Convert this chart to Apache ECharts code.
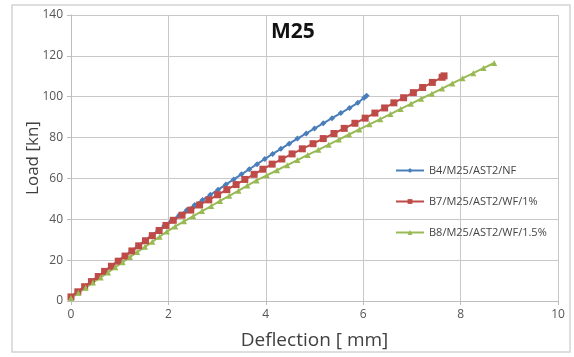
<!DOCTYPE html>
<html>
<head>
<meta charset="utf-8">
<script src="https://cdn.jsdelivr.net/npm/echarts@6/dist/echarts.min.js"></script>
<style>
  html, body { margin: 0; padding: 0; background: #fff; }
  #chart { width: 574px; height: 357px; }
</style>
</head>
<body>
<div id="chart"></div>
<script>
// load-deflection readings, [deflection mm, load kN]
const b4 = [
  [0, 2], [0.14, 4.5], [0.28, 7], [0.41, 9.5], [0.55, 12], [0.69, 14.5], [0.82, 17], [0.96, 19.5],
  [1.10, 22], [1.24, 24.5], [1.38, 27], [1.51, 29.5], [1.65, 32], [1.79, 34.5], [1.92, 37], [2.07, 39.5],
  [2.22, 42], [2.38, 44.5], [2.54, 47], [2.70, 49.5], [2.86, 52], [3.02, 54.5], [3.18, 57], [3.34, 59.5],
  [3.50, 62], [3.66, 64.5], [3.82, 67], [3.98, 69.5], [4.14, 72], [4.31, 74.5], [4.48, 77], [4.65, 79.5],
  [4.83, 82], [5.00, 84.5], [5.18, 87], [5.36, 89.5], [5.54, 92], [5.72, 94.5], [5.89, 97], [6.02, 99.5],
  [6.07, 100.5]
]
const b7 = [
  [0, 2], [0.14, 4.5], [0.28, 7], [0.42, 9.5], [0.56, 12], [0.69, 14.5], [0.83, 17], [0.97, 19.5],
  [1.11, 22], [1.25, 24.5], [1.39, 27], [1.53, 29.5], [1.67, 32], [1.81, 34.5], [1.95, 37], [2.10, 39.5],
  [2.28, 42], [2.46, 44.5], [2.64, 47], [2.83, 49.5], [3.01, 52], [3.20, 54.5], [3.39, 57], [3.57, 59.5],
  [3.76, 62], [3.94, 64.5], [4.13, 67], [4.33, 69.5], [4.54, 72], [4.75, 74.5], [4.97, 77], [5.18, 79.5],
  [5.40, 82], [5.61, 84.5], [5.83, 87], [6.04, 89.5], [6.24, 92], [6.44, 94.5], [6.63, 97], [6.83, 99.5],
  [7.03, 102], [7.22, 104.5], [7.42, 107], [7.62, 109.5], [7.66, 110.2]
]
const b8 = [
  [0, 1.5], [0.15, 4], [0.30, 6.5], [0.45, 9], [0.61, 11.5], [0.76, 14], [0.91, 16.5], [1.06, 19],
  [1.21, 21.5], [1.36, 24], [1.52, 26.5], [1.67, 29], [1.82, 31.5], [1.97, 34], [2.14, 36.5], [2.32, 39],
  [2.51, 41.5], [2.69, 44], [2.88, 46.5], [3.06, 49], [3.25, 51.5], [3.44, 54], [3.62, 56.5], [3.81, 59],
  [4.02, 61.5], [4.23, 64], [4.44, 66.5], [4.65, 69], [4.86, 71.5], [5.08, 74], [5.29, 76.5], [5.50, 79],
  [5.71, 81.5], [5.92, 84], [6.13, 86.5], [6.35, 89], [6.56, 91.5], [6.77, 94], [6.98, 96.5], [7.19, 99],
  [7.41, 101.5], [7.62, 104], [7.83, 106.5], [8.04, 109], [8.26, 111.5], [8.47, 114], [8.69, 116.5]
]
const names = ['B4/M25/AST2/NF', 'B7/M25/AST2/WF/1%', 'B8/M25/AST2/WF/1.5%']

const chart = echarts.init(document.getElementById('chart'))

const mkSeries = (name, data, color, symbol, size) => ({
  name,
  type: 'line',
  data,
  symbol,
  symbolSize: size,
  showAllSymbol: true,
  lineStyle: { color, width: 2 },
  itemStyle: { color },
  animation: false
})

chart.setOption({
  backgroundColor: '#fff',
  textStyle: { fontFamily: 'Open Sans, sans-serif' },
  graphic: [
    {
      type: 'rect',
      shape: { x: 12, y: 5, width: 558, height: 347 },
      style: { fill: 'none', stroke: '#d4d4d4', lineWidth: 1.5 },
      z: -1
    },
    {
      type: 'text',
      left: 271,
      top: 22,
      style: { text: 'M25', font: 'bold 21px "Open Sans", sans-serif', fill: '#111' }
    }
  ],
  grid: { left: 71, right: 16, top: 15, bottom: 56 },
  legend: {
    data: names,
    orient: 'vertical',
    left: 390,
    top: 160,
    itemWidth: 28,
    itemHeight: 6,
    itemGap: 20,
    textStyle: { fontSize: 11, color: '#444' }
  },
  xAxis: {
    type: 'value',
    min: 0,
    max: 10,
    interval: 2,
    name: 'Deflection [ mm]',
    nameLocation: 'middle',
    nameGap: 30,
    nameTextStyle: { fontSize: 19, color: '#404040' },
    axisLine: { show: true, lineStyle: { color: '#bdbdbd' } },
    axisTick: { show: true, length: 4, lineStyle: { color: '#bdbdbd' } },
    axisLabel: { fontSize: 12, color: '#555', margin: 8 },
    splitLine: { show: true, lineStyle: { color: '#c8c8c8' } }
  },
  yAxis: {
    type: 'value',
    min: 0,
    max: 140,
    interval: 20,
    name: 'Load [kn]',
    nameLocation: 'middle',
    nameGap: 29,
    nameMoveOverlap: false,
    nameTextStyle: { fontSize: 17, color: '#404040' },
    axisLine: { show: true, lineStyle: { color: '#bdbdbd' } },
    axisTick: { show: true, length: 4, lineStyle: { color: '#bdbdbd' } },
    axisLabel: { fontSize: 12, color: '#555', margin: 8 },
    splitLine: { show: true, lineStyle: { color: '#c8c8c8' } }
  },
  series: [
    mkSeries(names[0], b4, '#4a7ebb', 'diamond', 6),
    mkSeries(names[1], b7, '#be4b48', 'rect', 7),
    mkSeries(names[2], b8, '#98b954', 'triangle', 6)
  ]
})
</script>
</body>
</html>
